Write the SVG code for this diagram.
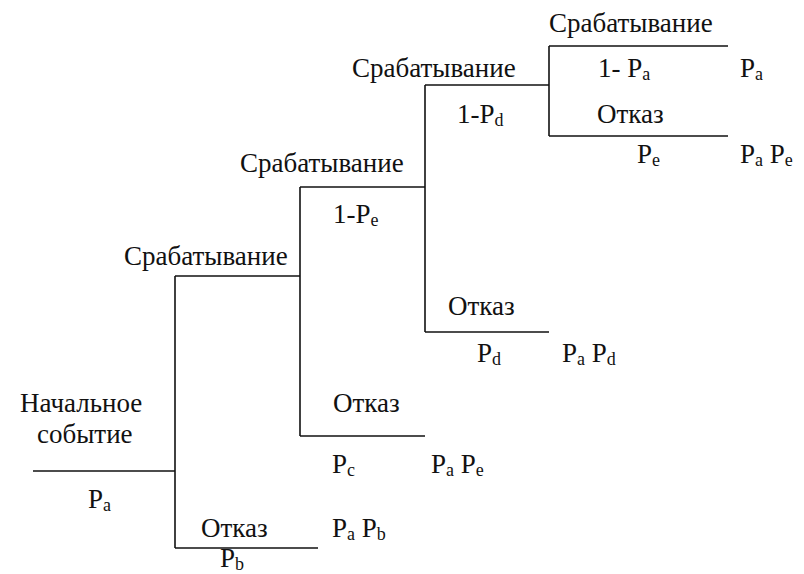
<svg xmlns="http://www.w3.org/2000/svg" width="804" height="574" viewBox="0 0 804 574" font-family="Times New Roman, Liberation Serif, serif">
<rect width="804" height="574" fill="#fff"/>
<g id="connectors" stroke="#111" stroke-width="1.6" fill="none">
<line x1="33" y1="471" x2="175" y2="471"/>
<line x1="175" y1="276" x2="175" y2="548"/>
<line x1="175" y1="276" x2="300" y2="276"/>
<line x1="175" y1="548" x2="318" y2="548"/>
<line x1="300" y1="187" x2="300" y2="436"/>
<line x1="300" y1="187" x2="425" y2="187"/>
<line x1="300" y1="436" x2="425" y2="436"/>
<line x1="425" y1="85" x2="425" y2="332"/>
<line x1="425" y1="85" x2="549" y2="85"/>
<line x1="425" y1="332" x2="549" y2="332"/>
<line x1="549" y1="46" x2="549" y2="136"/>
<line x1="549" y1="46" x2="728" y2="46"/>
<line x1="549" y1="136" x2="728" y2="136"/>
</g>
<g id="start" font-size="27" fill="#111">
<text x="20" y="412" font-family="Times New Roman, serif">Начальное</text>
<text x="37" y="443" font-family="Times New Roman, serif">событие</text>
<text x="88" y="508" font-family="Times New Roman, serif">P<tspan font-size="18" dy="3">a</tspan></text>
</g>
<g id="fail1" font-size="27" fill="#111">
<text x="201" y="537" font-family="Times New Roman, serif">Отказ</text>
<text x="220" y="567" font-family="Times New Roman, serif">P<tspan font-size="18" dy="3">b</tspan></text>
<text x="332" y="537" font-family="Times New Roman, serif">P<tspan font-size="18" dy="3">a</tspan><tspan dy="-3"> P</tspan><tspan font-size="18" dy="3">b</tspan></text>
</g>
<g id="ok1" font-size="27" fill="#111">
<text x="124" y="265" font-family="Times New Roman, serif">Срабатывание</text>
</g>
<g id="fail2" font-size="27" fill="#111">
<text x="333" y="412" font-family="Times New Roman, serif">Отказ</text>
<text x="332" y="473" font-family="Times New Roman, serif">P<tspan font-size="18" dy="3">c</tspan></text>
<text x="431" y="473" font-family="Times New Roman, serif">P<tspan font-size="18" dy="3">a</tspan><tspan dy="-3"> P</tspan><tspan font-size="18" dy="3">e</tspan></text>
</g>
<g id="ok2" font-size="27" fill="#111">
<text x="240" y="172" font-family="Times New Roman, serif">Срабатывание</text>
<text x="333" y="223" font-family="Times New Roman, serif">1-P<tspan font-size="18" dy="3">e</tspan></text>
</g>
<g id="fail3" font-size="27" fill="#111">
<text x="448" y="315" font-family="Times New Roman, serif">Отказ</text>
<text x="477" y="362" font-family="Times New Roman, serif">P<tspan font-size="18" dy="3">d</tspan></text>
<text x="562" y="362" font-family="Times New Roman, serif">P<tspan font-size="18" dy="3">a</tspan><tspan dy="-3"> P</tspan><tspan font-size="18" dy="3">d</tspan></text>
</g>
<g id="ok3" font-size="27" fill="#111">
<text x="352" y="77" font-family="Times New Roman, serif">Срабатывание</text>
<text x="457" y="123" font-family="Times New Roman, serif">1-P<tspan font-size="18" dy="3">d</tspan></text>
</g>
<g id="ok4" font-size="27" fill="#111">
<text x="549" y="32" font-family="Times New Roman, serif">Срабатывание</text>
<text x="598" y="77" font-family="Times New Roman, serif">1- P<tspan font-size="18" dy="3">a</tspan></text>
<text x="740" y="77" font-family="Times New Roman, serif">P<tspan font-size="18" dy="3">a</tspan></text>
</g>
<g id="fail4" font-size="27" fill="#111">
<text x="597" y="123" font-family="Times New Roman, serif">Отказ</text>
<text x="637" y="163" font-family="Times New Roman, serif">P<tspan font-size="18" dy="3">e</tspan></text>
<text x="740" y="163" font-family="Times New Roman, serif">P<tspan font-size="18" dy="3">a</tspan><tspan dy="-3"> P</tspan><tspan font-size="18" dy="3">e</tspan></text>
</g>
</svg>
